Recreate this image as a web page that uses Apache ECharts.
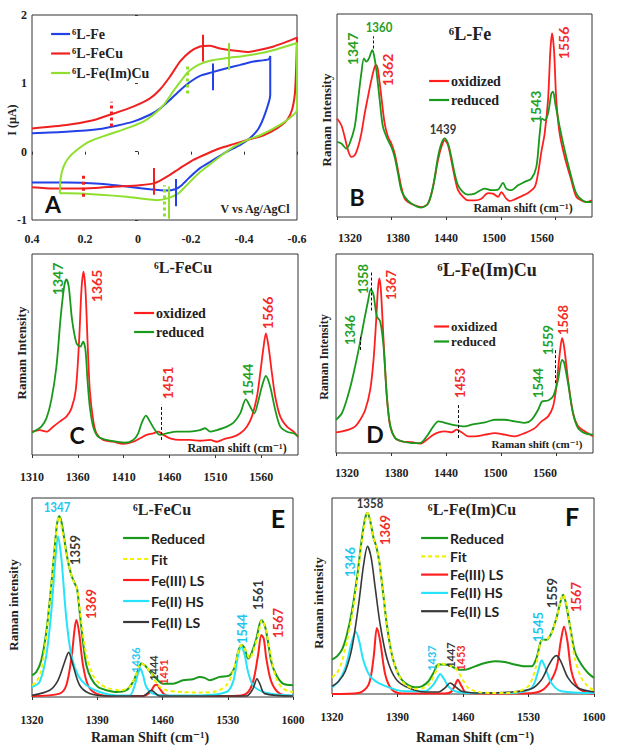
<!DOCTYPE html>
<html><head><meta charset="utf-8">
<script src="https://cdn.jsdelivr.net/npm/echarts@6/dist/echarts.min.js"></script>
<style>html,body{margin:0;padding:0;background:#fff}#c{width:621px;height:754px}</style>
</head><body><div id="c"></div>
<script>
// ---------------- DATA ----------------
// Panel A : cyclic voltammograms [V vs Ag/AgCl, I (µA)]
const aTicksX = [0.4, 0.2, 0, -0.2, -0.4, -0.6];
const aFe = [[0.4,0.27],[0.27,0.29],[0.144,0.33],[0.081,0.38],[0.018,0.44],[-0.045,0.54],[-0.083,0.63],[-0.121,0.76],[-0.159,0.90],[-0.196,1.02],[-0.234,1.11],[-0.278,1.16],[-0.335,1.22],[-0.386,1.27],[-0.436,1.32],[-0.493,1.35],[-0.499,1.40],[-0.499,0.83],[-0.48,0.56],[-0.455,0.34],[-0.423,0.20],[-0.386,0.10],[-0.335,0.0],[-0.285,-0.12],[-0.234,-0.24],[-0.196,-0.37],[-0.165,-0.49],[-0.14,-0.55],[-0.108,-0.57],[-0.045,-0.55],[0.043,-0.51],[0.144,-0.47],[0.27,-0.45],[0.4,-0.45]];
const aFeCu = [[0.4,0.34],[0.27,0.39],[0.169,0.46],[0.106,0.54],[0.018,0.66],[-0.045,0.78],[-0.083,0.91],[-0.121,1.10],[-0.159,1.32],[-0.196,1.46],[-0.234,1.54],[-0.272,1.55],[-0.31,1.51],[-0.36,1.48],[-0.411,1.46],[-0.461,1.49],[-0.512,1.54],[-0.562,1.61],[-0.6,1.67],[-0.597,1.24],[-0.592,0.85],[-0.581,0.61],[-0.562,0.46],[-0.524,0.34],[-0.474,0.24],[-0.411,0.17],[-0.36,0.11],[-0.31,0.05],[-0.26,-0.03],[-0.209,-0.12],[-0.159,-0.24],[-0.108,-0.37],[-0.064,-0.46],[-0.007,-0.49],[0.081,-0.51],[0.207,-0.54],[0.32,-0.54],[0.4,-0.52]];
const aFeImCu = [[0.295,-0.61],[0.293,-0.42],[0.283,-0.24],[0.264,-0.10],[0.232,0.02],[0.182,0.15],[0.119,0.24],[0.043,0.34],[-0.02,0.44],[-0.058,0.54],[-0.096,0.68],[-0.127,0.85],[-0.159,1.02],[-0.19,1.17],[-0.228,1.27],[-0.272,1.33],[-0.335,1.37],[-0.398,1.40],[-0.461,1.44],[-0.524,1.50],[-0.6,1.59],[-0.6,0.61],[-0.562,0.46],[-0.512,0.34],[-0.461,0.24],[-0.411,0.17],[-0.36,0.07],[-0.31,-0.07],[-0.26,-0.22],[-0.222,-0.34],[-0.184,-0.49],[-0.152,-0.61],[-0.115,-0.68],[-0.07,-0.71],[-0.02,-0.69],[0.043,-0.66],[0.144,-0.63],[0.27,-0.61],[0.295,-0.61]];
// peak / half-wave markers [V, I from, I to]
const aFePeaks = [[-0.281,0.90,1.29],[-0.142,-0.80,-0.40]];
const aFeCuPeaks = [[-0.244,1.32,1.71],[-0.06,-0.63,-0.24]];
const aFeCuHalf = [[0.102,0.37,0.73],[0.205,-0.66,-0.31]];
const aFeImCuPeaks = [[-0.343,1.20,1.59],[-0.115,-0.98,-0.51]];
const aFeImCuHalf = [[-0.184,0.85,1.29],[-0.098,-0.95,-0.49]];

// Panel B : 6L-Fe Raman (relative intensity 0-100)
const bTicks = [1320, 1380, 1440, 1500, 1560];
const bOxidized = [[1320,48.5],[1324.8,45.2],[1328.4,39.5],[1332.1,32.9],[1335.7,29.6],[1339.4,30.4],[1343.1,34.5],[1346.7,41.1],[1350.4,51],[1354,59.2],[1357.7,67.4],[1361.4,74],[1363.2,74.8],[1365,72.4],[1368.7,59.2],[1372.3,46.1],[1376,39.5],[1379.7,36.2],[1383.3,31.3],[1387,23],[1390.6,14.8],[1394.3,9],[1398,7.4],[1405.3,5.8],[1412.6,4.9],[1419.9,6.6],[1425.4,14.8],[1430.9,28],[1434.6,34.5],[1438.2,37.8],[1441.9,35.4],[1445.5,28],[1449.2,19.7],[1452.9,13.2],[1458.4,9.9],[1463.8,8.2],[1471.2,8.2],[1478.5,9],[1485.8,11.8],[1491.3,11.5],[1496.8,9.9],[1500.5,12.3],[1503,11],[1505.9,9],[1509.6,7.9],[1515.1,8.7],[1522.4,10.2],[1529.7,11.8],[1537.1,14.8],[1540.7,21.4],[1544.4,32.1],[1548,41.1],[1551.7,57.6],[1554.3,82.2],[1556.1,90.5],[1558.3,82.2],[1560.8,57.6],[1564.5,41.1],[1570,29.6],[1577.3,18.1],[1582.8,9.9],[1588.3,8.2],[1593.8,7.4],[1600,8.2]];
const bReduced = [[1320,37],[1324.8,36.2],[1330.2,33.7],[1333.9,36.2],[1339.4,44.4],[1343.1,57.6],[1346.7,70.7],[1349.6,78.1],[1352.2,76.5],[1355.1,78.1],[1358.8,82.2],[1360.6,79.8],[1363.2,72.4],[1366.9,57.6],[1370.5,44.4],[1376,37.8],[1379.7,34.5],[1383.3,29.6],[1387,21.4],[1390.6,13.2],[1394.3,9.9],[1401.6,6.6],[1412.6,4.6],[1419.9,6.6],[1425.4,14.8],[1430.9,29.6],[1434.6,36.2],[1438.2,38.7],[1441.9,36.2],[1445.5,29.6],[1449.2,21.4],[1452.9,15.6],[1458.4,12.3],[1463.8,11],[1471.2,11.5],[1482.2,14],[1489.5,13.2],[1496.8,13.5],[1502.3,16.8],[1505.9,14],[1511.4,13.2],[1518.8,15.6],[1526.1,17.3],[1533.4,18.9],[1538.9,24.7],[1542.6,41.1],[1545.1,48.5],[1548,47.7],[1551.7,51],[1555.4,60.9],[1557.2,61.7],[1559.7,55.9],[1564.5,44.4],[1570,32.9],[1577.3,19.7],[1582.8,11.5],[1588.3,8.6],[1593.8,7.4],[1600,7.4]];
const bPeaks = ['1347','1360','1362','1439','1543','1556'];
const bGuides = [[1360,83,89]];

// Panel C : 6L-FeCu Raman
const cTicks = [1310, 1360, 1410, 1460, 1510, 1560];
const cOxidized = [[1310,11.6],[1318.4,12.4],[1325.7,11.6],[1333,14.1],[1340.2,16.6],[1347.5,19.1],[1353,23.2],[1357.7,32.3],[1361.4,57.2],[1363.9,82.1],[1366.1,91.2],[1368.3,82.1],[1370.5,57.2],[1373,32.3],[1376.7,17.4],[1380.3,10.8],[1387.6,7.5],[1398.5,6.6],[1409.5,5.5],[1420.4,6.6],[1427.7,8.3],[1435,10],[1442.2,10.8],[1447.7,11.6],[1453.2,10],[1460.5,8.3],[1471.4,7.5],[1482.3,7.5],[1493.2,7.1],[1504.2,7.5],[1511.5,6.6],[1518.7,7.8],[1529.7,9.1],[1537,10.8],[1544.2,14.1],[1549.7,19.1],[1555.2,29],[1558.8,40.6],[1562.5,53.9],[1565,60.5],[1567.9,53.9],[1571.6,40.6],[1575.2,29],[1580.7,19.1],[1588,14.1],[1595.2,11.6],[1600,9.1]];
const cReduced = [[1310,11.1],[1314.7,12.4],[1320.2,14.1],[1325.7,18.2],[1331.1,27.4],[1336.6,43.9],[1341.3,68.8],[1345,83.7],[1347.5,87.4],[1350.1,83.7],[1353.7,67.2],[1358.5,55.6],[1362.8,53.9],[1365.7,56.4],[1368.3,52.2],[1370.5,37.3],[1373,24],[1376.7,14.1],[1382.1,9.1],[1391.2,7.5],[1402.2,6.6],[1411.3,6.1],[1420.4,7.5],[1425.8,10.8],[1429.5,15.8],[1434.2,19.6],[1438.6,16.6],[1444.1,12.4],[1449.5,10],[1456.8,10.8],[1467.7,11.6],[1478.7,11.6],[1493.2,12.4],[1498.7,13.3],[1504.2,11.6],[1511.5,12.4],[1522.4,14.1],[1529.7,16.1],[1537,20.7],[1543.1,27.7],[1547.9,24],[1552.3,20.7],[1557,27.4],[1560.6,34],[1565,39.3],[1569.7,34],[1575.2,22.4],[1580.7,14.1],[1588,11.6],[1595.2,10.8],[1600,9.1]];
const cPeaks = ['1347','1365','1451','1544','1566'];
const cGuides = [[1451,7.5,25]];

// Panel D : 6L-Fe(Im)Cu Raman
const dTicks = [1320, 1380, 1440, 1500, 1560];
const dOxidized = [[1320,10.4],[1326.5,10.9],[1333.8,11.7],[1341,13.4],[1346.4,16.7],[1351.9,21.7],[1357.3,31.8],[1360.9,46.8],[1363.8,66.9],[1365.6,81.9],[1367.1,87.8],[1368.9,81.9],[1371.8,56.9],[1375.4,28.4],[1379,13.4],[1384.5,7.5],[1391.7,5.9],[1402.6,5.4],[1411.6,4.7],[1418.9,6.7],[1426.1,9.2],[1431.6,10.4],[1438.8,10.9],[1446,10.4],[1451.5,11.7],[1456.9,10.4],[1464.1,8.4],[1471.4,8.4],[1482.3,9.2],[1493.1,10],[1504,9.2],[1514.9,8.4],[1525.7,10],[1536.6,12.5],[1543.9,15.9],[1551.1,18.4],[1556.5,23.4],[1560.1,33.4],[1563.8,50.2],[1566.3,57.7],[1568.5,53.5],[1572.8,36.8],[1578.2,20.1],[1583.7,13.4],[1590.9,10.9],[1600,8.4]];
const dReduced = [[1320,16.7],[1326.5,20.1],[1333.8,30.1],[1339.2,40.1],[1344.6,51.8],[1350.1,65.2],[1354.8,76.1],[1358,82.3],[1360.9,79.4],[1364.5,68.6],[1368.2,66.1],[1371.8,53.5],[1375.4,28.4],[1379,14.2],[1384.5,7.5],[1391.7,5.9],[1402.6,5],[1411.6,5],[1418.9,8.4],[1426.1,13.4],[1431.6,15.9],[1437,15.4],[1446,14.2],[1453.3,13.7],[1460.5,13.4],[1467.8,14.2],[1482.3,15.4],[1493.1,16.7],[1504,16.7],[1514.9,15.9],[1525.7,15.1],[1533,16.7],[1540.2,21.7],[1544.6,25.9],[1551.1,26.4],[1556.5,28.4],[1561.9,36.8],[1566.3,46.8],[1568.5,45.5],[1572.8,35.1],[1578.2,20.1],[1583.7,12.5],[1590.9,10],[1600,9.2]];
const dPeaks = ['1346','1358','1367','1453','1544','1559','1568'];
const dGuides = [[1358,71.6,91.6],[1346,51.8,59.4],[1453,7.5,24.2],[1559,35.1,51.8]];

// Panel E : 6L-FeCu reduced + fit components
const eTicks = [1320, 1390, 1460, 1530, 1600];
const eReduced = [[1320,10.9],[1324.6,12.6],[1330,18.5],[1335.4,32.8],[1340.7,56.3],[1344.3,74.8],[1346.8,86.6],[1349,90.8],[1351.5,88.2],[1355,78.2],[1358.6,68.1],[1362.2,61.3],[1365.8,57.1],[1368.3,54.6],[1371.1,42.9],[1374.7,27.7],[1378.3,16],[1383.7,9.2],[1390.8,5],[1399.8,3.4],[1410.5,2.5],[1421.2,3.4],[1428.4,7.6],[1433.7,13.4],[1437.3,16.8],[1442.7,15.1],[1448,11.8],[1453.4,9.2],[1460.6,6.7],[1471.3,6.7],[1482,8.4],[1492.7,8.9],[1499.9,10.1],[1505.3,9.6],[1510.6,8.4],[1521.4,10.1],[1532.1,10.9],[1537.5,15.1],[1541.1,22.7],[1544.7,26.1],[1548.2,24.4],[1551.8,19.3],[1555.3,21.8],[1560.7,29.4],[1566.1,38.7],[1569.6,36.1],[1573.2,27.7],[1576.8,17.6],[1582.2,10.9],[1589.3,6.7],[1600,5.9]];
const eFit = [[1320,5.9],[1324.6,7.6],[1330,13.4],[1335.4,31.1],[1340.7,56.3],[1344.3,74.8],[1349,90.8],[1353.3,81.5],[1358.6,68.1],[1364,58.8],[1368.3,54.6],[1372.9,37.8],[1378.3,21],[1385.5,10.9],[1392.6,6.7],[1403.3,4.2],[1414.1,3.4],[1424.8,5],[1431.9,11.8],[1437.3,16.8],[1442.7,15.1],[1448,11.8],[1455.2,5.9],[1464.1,3.4],[1482,2.5],[1499.9,2.2],[1517.8,2.9],[1528.5,5.9],[1535.7,12.6],[1540,21],[1544.7,26.1],[1550,22.7],[1553.5,19.3],[1557.1,22.7],[1562.5,31.1],[1566.8,38.7],[1571.4,32.8],[1576.8,19.3],[1582.2,9.2],[1589.3,4.2],[1600,2.5]];
const eFe3LS = [[1320,0.5],[1349.7,1.7],[1356.8,5.9],[1362.2,19.3],[1365.8,34.5],[1367.6,38.7],[1370.4,32.8],[1374.7,16],[1380.1,5.9],[1389,1.7],[1406.9,0.5],[1439.1,0.5],[1446.3,2.2],[1451.6,5.9],[1454.1,6.2],[1457,4.2],[1462.3,1.2],[1471.3,0.5],[1535.7,0.5],[1550,1.7],[1557.1,7.6],[1562.5,21],[1566.1,31.1],[1568.6,29.4],[1571.4,19.3],[1576.8,7.6],[1585.7,1.7],[1600,0.5]];
const eFe2HS = [[1320,5],[1328.2,7.6],[1335.4,21],[1340.7,42.9],[1344.3,64.7],[1347.9,80.7],[1351.5,69.7],[1356.8,39.5],[1362.2,21],[1369.4,10.9],[1378.3,5.9],[1392.6,2.5],[1410.5,0.8],[1424.8,0.8],[1430.2,5.9],[1433.7,11.8],[1436.2,14.3],[1439.1,10.9],[1442.7,5],[1449.8,1.7],[1464.1,0.8],[1499.9,0.8],[1528.5,2.5],[1535.7,7.6],[1541.1,21],[1544.7,25.2],[1548.2,21],[1551.8,12.6],[1557.1,5.9],[1567.9,2.5],[1582.2,1.2],[1600,0.8]];
const eFe2LS = [[1320,0.8],[1339,3.4],[1347.9,8.4],[1355,17.6],[1359.3,22.4],[1364,16],[1371.1,5.9],[1381.9,1.7],[1399.8,0.5],[1439.1,0.5],[1444.5,2.2],[1448,3.4],[1451.6,2.2],[1457,0.5],[1550,0.5],[1557.1,4.2],[1561.4,9.2],[1564.3,6.7],[1569.6,1.7],[1600,0.5]];
const ePeaks = ['1347','1359','1369','1436','1444','1451','1544','1561','1567'];

// Panel F : 6L-Fe(Im)Cu reduced + fit components
const fTicks = [1320, 1390, 1460, 1530, 1600];
const fReduced = [[1320,17.5],[1325.3,19.2],[1330.7,22.6],[1336,30.3],[1341.3,42.2],[1346.7,59.2],[1352,79.6],[1355.5,89.8],[1358,92.3],[1360.9,88.1],[1364.4,79.6],[1367.3,75.3],[1370.5,67.7],[1374,54.1],[1378.6,35.4],[1384,20.1],[1391.1,9.9],[1398.2,5.6],[1408.8,3.4],[1416,3.9],[1423.1,6.5],[1428.4,10.7],[1433.7,15],[1440.8,15],[1447.9,14.1],[1455,12.4],[1462.1,12.4],[1472.8,14.1],[1483.5,15.8],[1494.1,16.7],[1504.8,16.3],[1515.5,15],[1526.1,14.1],[1533.2,14.1],[1538.6,18.4],[1542.1,25.2],[1544.6,27.7],[1549.2,27.7],[1554.5,31.1],[1559.9,38.8],[1563.4,45.6],[1567,50.7],[1569.5,47.3],[1574.1,35.4],[1579.4,21.8],[1586.5,15],[1593.6,10.7],[1600,8.2]];
const fFit = [[1320,8.5],[1325.3,10.7],[1330.7,16.7],[1336,26.9],[1341.3,39.6],[1346.7,57.5],[1352,77.9],[1358,92.3],[1364.4,79.6],[1367.3,75.3],[1370.5,67.7],[1374,54.1],[1378.6,35.4],[1384,20.1],[1391.1,9.9],[1398.2,4.8],[1408.8,2.7],[1417.7,3.1],[1424.8,5.6],[1431.9,12.4],[1435.5,15.8],[1440.8,15],[1447.9,14.1],[1453.3,12.4],[1458.6,8.2],[1465.7,3.1],[1476.4,1],[1490.6,0.5],[1504.8,0.5],[1519,1.4],[1529.7,3.9],[1536.8,11.6],[1540.3,20.1],[1543.9,27.2],[1549.2,27.7],[1554.5,31.1],[1559.9,38.8],[1563.4,45.6],[1567,50.7],[1569.5,48.1],[1574.1,35.4],[1579.4,18.4],[1586.5,8.2],[1593.6,3.9],[1600,1.7]];
const fFe3LS = [[1320,0],[1348.4,0.5],[1359.1,4.8],[1364.4,18.4],[1368,33.7],[1371.5,26.9],[1376.9,9.9],[1384,2.2],[1394.6,0.2],[1440.8,0.2],[1447.9,1.4],[1453.3,6.5],[1454.3,7.3],[1458.6,3.9],[1463.9,0.5],[1519,0.2],[1540.3,1],[1551,4.8],[1559.9,13.3],[1564.5,26.9],[1568,34.5],[1571.6,26.9],[1575.9,11.6],[1583,3.1],[1593.6,0.5],[1600,0.2]];
const fFe2HS = [[1320,3.4],[1327.1,6.5],[1334.2,13.3],[1341.3,26.9],[1345.6,31.6],[1349.1,26.9],[1353.8,16.7],[1360.9,9],[1373.3,4.8],[1398.2,1.4],[1419.5,1.4],[1428.4,4.8],[1433.7,9],[1435.5,10.2],[1439,8.2],[1444.4,3.9],[1451.5,1.4],[1469.3,0.5],[1511.9,0.5],[1533.2,3.1],[1540.3,11.6],[1543.9,17.2],[1547.4,14.1],[1554.5,5.6],[1565.2,1.4],[1600,0.5]];
const fFe2LS = [[1320,3.9],[1327.1,6.5],[1334.2,11.6],[1341.3,23.5],[1348.4,45.6],[1353.8,66],[1358,75.3],[1361.9,69.4],[1366.2,54.1],[1371.5,35.4],[1378.6,18.4],[1387.5,8.2],[1398.2,3.9],[1419.5,1],[1433.7,1],[1440.8,3.1],[1446.2,5.6],[1451.5,3.9],[1458.6,1.4],[1476.4,0.5],[1511.9,1],[1533.2,2.7],[1543.9,7.3],[1551,14.1],[1556.3,18.4],[1559.9,19.6],[1564.5,16.7],[1572.3,8.2],[1583,3.1],[1600,1]];
const fPeaks = ['1358','1369','1346','1437','1447','1453','1545','1559','1567'];

// ---------------- STYLE / LAYOUT ----------------
const SERIF = "'Liberation Serif', 'DejaVu Serif', serif";
const SANS = "Lato, 'Liberation Sans', sans-serif";
const INK = '#222';
const COL = {
  aBlue:'#2341e6', aRed:'#ee2020', aGreen:'#8fe02e',
  red:'#ff1f1f', green:'#19991c', yellow:'#f2f200', cyan:'#25e3fa', black:'#383838',
  tRed:'#f22a2a', tGreen:'#23a023', tCyan:'#1ec6ef', tBlack:'#383838'
};
const GRIDS = [
  {left:32, top:15, width:265, height:205},   // A
  {left:337, top:14, width:255, height:203},  // B
  {left:32, top:254, width:266, height:201},  // C
  {left:336, top:254, width:257, height:199}, // D
  {left:32, top:498, width:261, height:199},  // E
  {left:332, top:498, width:262, height:196}  // F
];
// peak label placement: [x, y, rotated, colourKey, fontSize]
const bPeakPos = [[352,49,1,'tGreen',14],[379,27,0,'tGreen',14],[387,70,1,'tRed',14],[443,129,0,'tBlack',14],[535,107,1,'tGreen',14],[563,43,1,'tRed',14]];
const cPeakPos = [[57,279,1,'tGreen',14],[96,286,1,'tRed',14],[167,383,1,'tRed',14],[247,380,1,'tGreen',14],[267,313,1,'tRed',14]];
const dPeakPos = [[350,330,1,'tGreen',13],[363,279,1,'tGreen',13],[391,285,1,'tRed',13],[460,383,1,'tRed',13],[538,383,1,'tGreen',13],[548,340,1,'tGreen',13],[563,320,1,'tRed',13]];
const ePeakPos = [[57,507,0,'tCyan',14],[75,550,1,'tBlack',13],[91,604,1,'tRed',13],[135,660,1,'tCyan',11],[153,668,1,'tBlack',11],[163,672,1,'tRed',11],[242,629,1,'tCyan',13],[258,595,1,'tBlack',13],[278,623,1,'tRed',13]];
const fPeakPos = [[370,503,0,'tBlack',14],[385,530,1,'tRed',13],[350,562,1,'tCyan',13],[431,658,1,'tCyan',11],[450,655,1,'tBlack',11],[460,658,1,'tRed',11],[538,627,1,'tCyan',13],[552,593,1,'tBlack',13],[576,597,1,'tRed',13]];

// ---------------- BUILD ----------------
function txt(x, y, text, size, family, color, rot, sx) {
  return { type:'text', x:x, y:y, rotation: rot ? Math.PI/2 : 0, scaleX: sx || 1, silent:true, z:100,
    style:{ text:text, fill:color || INK, fontSize:size, fontWeight:'bold', fontFamily:family, align:'center', verticalAlign:'middle' } };
}
function peakTexts(labels, pos) {
  return labels.map((t, i) => { const p = pos[i]; return txt(p[0], p[1], t, p[4], SANS, COL[p[3]], p[2], p[2] ? 1 : 0.82); });
}
function guideLines(g) {
  return g.map(r => [{coord:[r[0], r[1]]}, {coord:[r[0], r[2]]}]);
}
function vMarks(list, dotted) {
  return list.map(r => [{coord:[r[0], r[1]], lineStyle: dotted ? {type:[3,3], width:3} : {type:'solid', width:2}}, {coord:[r[0], r[2]]}]);
}
function line(name, data, color, xi, yi, opt) {
  opt = opt || {};
  return Object.assign({ type:'line', name:name, data:data, xAxisIndex:xi, yAxisIndex:yi, symbol:'none', showSymbol:false,
    smooth: opt.smooth === undefined ? 0.3 : opt.smooth, silent:true, animation:false, z: opt.z || 2,
    lineStyle:{ color:color, width: opt.width || 1.8, type: opt.type || 'solid' }, itemStyle:{ color:color } }, opt.extra || {});
}
function guideMark(g) {
  return { markLine:{ silent:true, animation:false, symbol:['none','none'], label:{show:false},
    lineStyle:{ color:'#111', width:1, type:[3,2] }, data: guideLines(g) } };
}
const tickLabel = { fontFamily:SERIF, fontWeight:'bold', fontSize:12, color:INK };
const plain = v => String(+(+v).toFixed(1));

function specX(grid, min, max, ticks, margin, showLabel, size) {
  return { type:'value', gridIndex:grid, min:min, max:max, position:'bottom',
    axisLine:{show:false}, splitLine:{show:false},
    axisTick:{show:true, length:3, customValues:ticks, lineStyle:{color:'#333'}},
    axisLabel: Object.assign({}, tickLabel, {show:showLabel, margin:margin, customValues:ticks, formatter:plain, fontSize: size || 12}) };
}
function labelX(grid, min, max, ticks, margin) {
  return { type:'value', gridIndex:grid, min:min, max:max, position:'bottom',
    axisLine:{show:false}, splitLine:{show:false}, axisTick:{show:false},
    axisLabel: Object.assign({}, tickLabel, {show:true, margin:margin, customValues:ticks, formatter:plain}) };
}
function specY(grid) {
  return { type:'value', gridIndex:grid, min:0, max:100, axisLine:{show:false}, axisTick:{show:false}, axisLabel:{show:false}, splitLine:{show:false} };
}

const xAxes = [
  { type:'value', gridIndex:0, min:-0.6, max:0.4, interval:0.2, inverse:true, position:'bottom',
    axisLine:{show:false}, splitLine:{show:false}, axisTick:{show:true, length:3, lineStyle:{color:'#333'}},
    axisLabel: Object.assign({}, tickLabel, {margin:13, formatter: plain}) },
  specX(1, 1320, 1600, bTicks, 15, false),
  labelX(1, 1303.75, 1622.5, bTicks, 15),
  specX(2, 1310, 1600, cTicks, 16, true),
  specX(3, 1320, 1600, dTicks, 14, false),
  labelX(3, 1306.7, 1618, dTicks, 14),
  specX(4, 1320, 1600, eTicks, 17, true, 11.5),
  specX(5, 1320, 1600, fTicks, 17, true, 11.5)
];
const yAxes = [
  { type:'value', gridIndex:0, min:-1, max:2, interval:1, axisLine:{show:false}, splitLine:{show:false},
    axisTick:{show:true, length:3, lineStyle:{color:'#333'}}, axisLabel: Object.assign({}, tickLabel, {margin:5, formatter: plain}) },
  specY(1), specY(2), specY(3), specY(4), specY(5)
];

const series = [
  line('⁶L-Fe', aFe, COL.aBlue, 0, 0, {width:2, smooth:0.2, extra:{ markLine:{ silent:true, animation:false, symbol:['none','none'], label:{show:false}, lineStyle:{color:COL.aBlue}, data: vMarks(aFePeaks, false) } }}),
  line('⁶L-FeCu', aFeCu, COL.aRed, 0, 0, {width:2, smooth:0.2, extra:{ markLine:{ silent:true, animation:false, symbol:['none','none'], label:{show:false}, lineStyle:{color:COL.aRed}, data: vMarks(aFeCuPeaks, false).concat(vMarks(aFeCuHalf, true)) } }}),
  line('⁶L-Fe(Im)Cu', aFeImCu, COL.aGreen, 0, 0, {width:2, smooth:0.2, extra:{ markLine:{ silent:true, animation:false, symbol:['none','none'], label:{show:false}, lineStyle:{color:COL.aGreen}, data: vMarks(aFeImCuPeaks, false).concat(vMarks(aFeImCuHalf, true)) } }}),

  line('oxidized', bOxidized, COL.red, 1, 1),
  line('reduced', bReduced, COL.green, 1, 1, {z:3, extra: guideMark(bGuides)}),
  line('oxidized', cOxidized, COL.red, 3, 2),
  line('reduced', cReduced, COL.green, 3, 2, {z:3, extra: guideMark(cGuides)}),
  line('oxidized', dOxidized, COL.red, 4, 3),
  line('reduced', dReduced, COL.green, 4, 3, {z:3, extra: guideMark(dGuides)}),

  line('Reduced', eReduced, COL.green, 6, 4, {width:2}),
  line('Fit', eFit, COL.yellow, 6, 4, {width:2, type:[4,3], z:4}),
  line('Fe(III) LS', eFe3LS, COL.red, 6, 4, {width:2, z:3}),
  line('Fe(II) HS', eFe2HS, COL.cyan, 6, 4, {width:2, z:3}),
  line('Fe(II) LS', eFe2LS, COL.black, 6, 4, {width:1.6, z:3}),

  line('Reduced', fReduced, COL.green, 7, 5, {width:2}),
  line('Fit', fFit, COL.yellow, 7, 5, {width:2, type:[4,3], z:4}),
  line('Fe(III) LS', fFe3LS, COL.red, 7, 5, {width:2, z:3}),
  line('Fe(II) HS', fFe2HS, COL.cyan, 7, 5, {width:2, z:3}),
  line('Fe(II) LS', fFe2LS, COL.black, 7, 5, {width:1.6, z:3})
];

function legend(left, top, names, w, gap, size, family) {
  return { show:true, orient:'vertical', left:left, top:top, padding:0, itemWidth:w, itemHeight:14, itemGap:gap,
    selectedMode:false, data:names,
    itemStyle:{ opacity:0, color:'transparent', borderColor:'transparent', borderWidth:0 },
    lineStyle:{ width:2.2 },
    textStyle:{ fontFamily:family, fontWeight:'bold', fontSize:size, color:INK, padding:[0,0,0,-3] } };
}
const legends = [
  legend(50, 27, ['⁶L-Fe','⁶L-FeCu','⁶L-Fe(Im)Cu'], 19, 5.5, 14, SERIF),
  legend(428, 74, ['oxidized','reduced'], 20, 5, 14, SERIF),
  legend(133, 306, ['oxidized','reduced'], 20, 5, 14, SERIF),
  legend(433, 320, ['oxidized','reduced'], 15, 2, 13, SERIF),
  legend(122, 531, ['Reduced','Fit','Fe(III) LS','Fe(II) HS','Fe(II) LS'], 26, 7, 14, SANS),
  legend(420, 531, ['Reduced','Fit','Fe(III) LS','Fe(II) HS','Fe(II) LS'], 27, 4.3, 14, SANS)
];

const graphics = [
  // panel A
  txt(12, 120, 'I (µA)', 12, SERIF, INK, 1),
  txt(255, 209, 'V vs Ag/AgCl', 12, SERIF, INK, 0),
  txt(53, 204, 'A', 23, SANS, '#111', 0),
  // panel B
  txt(470, 34, '⁶L-Fe', 18, SERIF, INK, 0),
  txt(357, 197, 'B', 23, SANS, '#111', 0),
  txt(523, 208, 'Raman shift (cm⁻¹)', 12, SERIF, INK, 0),
  txt(326, 120, 'Raman Intensity', 13, SERIF, INK, 1),
  // panel C
  txt(183, 267, '⁶L-FeCu', 16, SERIF, INK, 0),
  txt(77, 435, 'C', 23, SANS, '#111', 0),
  txt(237, 448, 'Raman shift (cm⁻¹)', 12, SERIF, INK, 0),
  txt(21, 353, 'Raman Intensity', 13, SERIF, INK, 1),
  // panel D
  txt(487, 270, '⁶L-Fe(Im)Cu', 18, SERIF, INK, 0),
  txt(375, 434, 'D', 23, SANS, '#111', 0),
  txt(537, 444, 'Raman shift (cm⁻¹)', 11, SERIF, INK, 0),
  txt(324, 357, 'Raman Intensity', 12, SERIF, INK, 1),
  // panel E
  txt(162, 509, '⁶L-FeCu', 16, SERIF, INK, 0),
  txt(278, 518, 'E', 25, SANS, '#111', 0),
  txt(150, 737, 'Raman Shift (cm⁻¹)', 14, SERIF, INK, 0),
  txt(13, 605, 'Raman intensity', 13, SERIF, INK, 1),
  // panel F
  txt(472, 509, '⁶L-Fe(Im)Cu', 16, SERIF, INK, 0),
  txt(572, 516, 'F', 25, SANS, '#111', 0),
  txt(475, 737, 'Raman Shift (cm⁻¹)', 14, SERIF, INK, 0),
  txt(318, 603, 'Raman intensity', 13, SERIF, INK, 1)
].concat(peakTexts(bPeaks, bPeakPos), peakTexts(cPeaks, cPeakPos), peakTexts(dPeaks, dPeakPos),
         peakTexts(ePeaks, ePeakPos), peakTexts(fPeaks, fPeakPos));

const chart = echarts.init(document.getElementById('c'), null, {renderer:'svg', width:621, height:754});
chart.setOption({
  backgroundColor:'#fff',
  animation:false,
  textStyle:{ fontFamily:SERIF },
  grid: GRIDS.map(g => Object.assign({ show:true, borderColor:'#333', borderWidth:1, backgroundColor:'transparent', containLabel:false }, g)),
  xAxis: xAxes,
  yAxis: yAxes,
  legend: legends,
  series: series,
  graphic: graphics
});
</script></body></html>
